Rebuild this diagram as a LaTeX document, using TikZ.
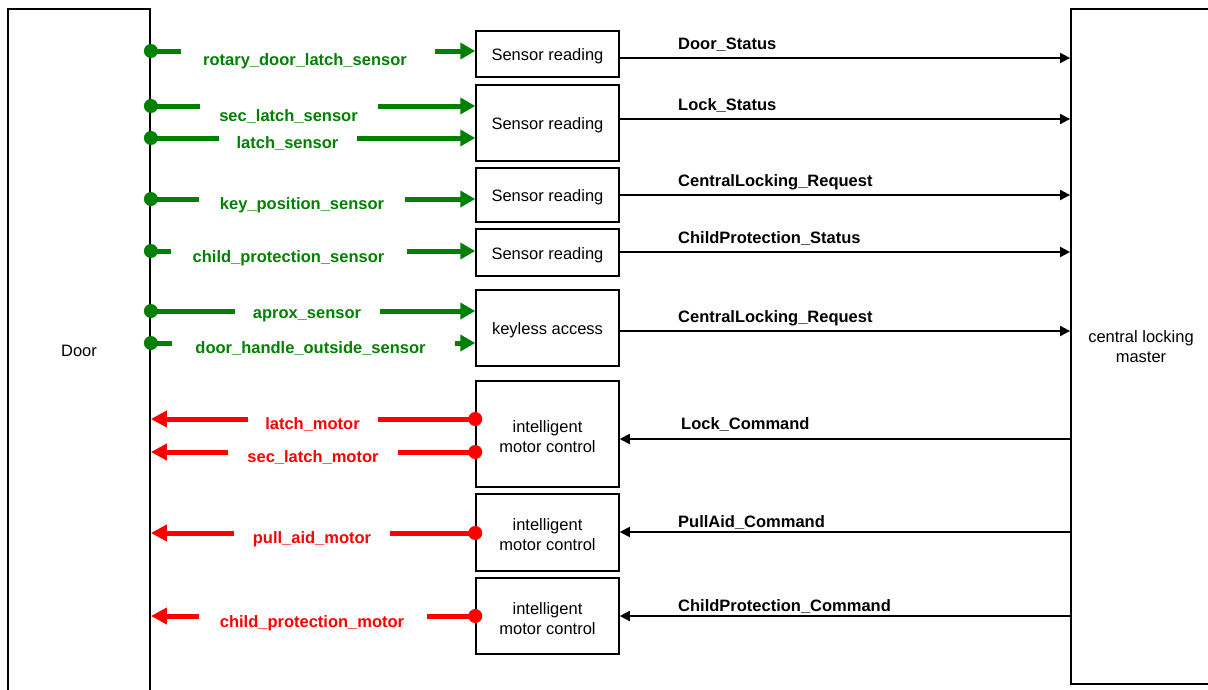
\documentclass[tikz,border=0pt]{standalone}
\usepackage{fontspec}
\setmainfont{Liberation Sans}
\usetikzlibrary{arrows.meta}
\definecolor{sgreen}{RGB}{0,128,0}
\definecolor{sred}{RGB}{255,0,0}
\newcommand\boxup{\rule{0pt}{16.5pt}}
\begin{document}
\begin{tikzpicture}[x=1pt,y=-1pt,
  every node/.style={font=\fontsize{16.5}{20}\selectfont},
  blk/.style={draw=black, line width=1.5pt, inner sep=0pt, align=center},
  gline/.style={draw=sgreen, line width=5pt},
  rline/.style={draw=sred, line width=5pt},
  garrow/.style={gline,-{Triangle[length=15pt,width=16pt]}},
  rarrow/.style={rline,-{Triangle[length=16pt,width=16pt]}},
  barrow/.style={draw=black,line width=1.8pt,-{Triangle[length=10pt,width=10pt]}},
  glabel/.style={text=sgreen, font=\fontsize{16.5}{20}\selectfont\bfseries, anchor=base, inner sep=0pt},
  rlabel/.style={text=sred, font=\fontsize{16.5}{20}\selectfont\bfseries, anchor=base, inner sep=0pt},
  blabel/.style={text=black, font=\fontsize{16.5}{20}\selectfont\bfseries, anchor=base west, inner sep=0pt},
  gdot/.style={fill=sgreen},
  rdot/.style={fill=sred}]
\useasboundingbox (0,0) rectangle (1208,689);

% main blocks
\node[blk, line width=1.8pt, minimum width=142pt, minimum height=684pt] (door) at (79,351) {Door};
\node[blk, line width=1.8pt, minimum width=140pt, minimum height=675pt] (master) at (1141,346.5) {central locking\\master};

% function boxes
\node[blk, minimum width=143pt, minimum height=46pt] (s1) at (547.5,54) {\boxup Sensor reading};
\node[blk, minimum width=143pt, minimum height=76pt] (s2) at (547.5,123) {\boxup Sensor reading};
\node[blk, minimum width=143pt, minimum height=54pt] (s3) at (547.5,195) {\boxup Sensor reading};
\node[blk, minimum width=143pt, minimum height=47pt] (s4) at (547.5,252.5) {\boxup Sensor reading};
\node[blk, minimum width=143pt, minimum height=76pt] (k) at (547.5,328) {\boxup keyless access};
\node[blk, minimum width=143pt, minimum height=106pt] (m1) at (547.5,434) {\boxup intelligent\\motor control};
\node[blk, minimum width=143pt, minimum height=77pt] (m2) at (547.5,532.5) {\boxup intelligent\\motor control};
\node[blk, minimum width=143pt, minimum height=76pt] (m3) at (547.5,616) {\boxup intelligent\\motor control};

% green sensor signals
\draw[gline] (door.east |- 0,51) -- (181,51);
\draw[garrow] (435,51) -- (s1.west |- 0,51);
\fill[gdot] (door.east |- 0,51) circle[radius=7pt];
\node[glabel] (g1) at (305,65) {rotary\_door\_latch\_sensor};

\draw[gline] (door.east |- 0,106) -- (200,106);
\draw[garrow] (378,106) -- (s2.west |- 0,106);
\fill[gdot] (door.east |- 0,106) circle[radius=7pt];
\node[glabel] (g2) at (288.5,121) {sec\_latch\_sensor};

\draw[gline] (door.east |- 0,138) -- (219,138);
\draw[garrow] (357,138) -- (s2.west |- 0,138);
\fill[gdot] (door.east |- 0,138) circle[radius=7pt];
\node[glabel] (g3) at (287.5,148) {latch\_sensor};

\draw[gline] (door.east |- 0,199) -- (199,199);
\draw[garrow] (405,199) -- (s3.west |- 0,199);
\fill[gdot] (door.east |- 0,199) circle[radius=7pt];
\node[glabel] (g4) at (302,209) {key\_position\_sensor};

\draw[gline] (door.east |- 0,251) -- (171,251);
\draw[garrow] (407,251) -- (s4.west |- 0,251);
\fill[gdot] (door.east |- 0,251) circle[radius=7pt];
\node[glabel] (g5) at (288.5,262) {child\_protection\_sensor};

\draw[gline] (door.east |- 0,311) -- (235,311);
\draw[garrow] (380,311) -- (k.west |- 0,311);
\fill[gdot] (door.east |- 0,311) circle[radius=7pt];
\node[glabel] (g6) at (307,318) {aprox\_sensor};

\draw[gline] (door.east |- 0,343) -- (172,343);
\draw[garrow] (455,343) -- (k.west |- 0,343);
\fill[gdot] (door.east |- 0,343) circle[radius=7pt];
\node[glabel] (g7) at (310.5,353) {door\_handle\_outside\_sensor};

% red actuator signals
\draw[rline] (m1.west |- 0,419) -- (378,419);
\draw[rarrow] (248,419) -- (door.east |- 0,419);
\fill[rdot] (m1.west |- 0,419) circle[radius=7pt];
\node[rlabel] (r1) at (312.5,429) {latch\_motor};

\draw[rline] (m1.west |- 0,452) -- (398,452);
\draw[rarrow] (228,452) -- (door.east |- 0,452);
\fill[rdot] (m1.west |- 0,452) circle[radius=7pt];
\node[rlabel] (r2) at (313,462) {sec\_latch\_motor};

\draw[rline] (m2.west |- 0,533) -- (390,533);
\draw[rarrow] (234,533) -- (door.east |- 0,533);
\fill[rdot] (m2.west |- 0,533) circle[radius=7pt];
\node[rlabel] (r3) at (312,543) {pull\_aid\_motor};

\draw[rline] (m3.west |- 0,616) -- (427,616);
\draw[rarrow] (199,616) -- (door.east |- 0,616);
\fill[rdot] (m3.west |- 0,616) circle[radius=7pt];
\node[rlabel] (r4) at (312,627) {child\_protection\_motor};

% black bus signals
\draw[barrow] (s1.east |- 0,58) -- (master.west |- 0,58);
\node[blabel] (b1) at (678,49) {Door\_Status};
\draw[barrow] (s2.east |- 0,119) -- (master.west |- 0,119);
\node[blabel] (b2) at (678,110) {Lock\_Status};
\draw[barrow] (s3.east |- 0,195) -- (master.west |- 0,195);
\node[blabel] (b3) at (678,186) {CentralLocking\_Request};
\draw[barrow] (s4.east |- 0,252) -- (master.west |- 0,252);
\node[blabel] (b4) at (678,243) {ChildProtection\_Status};
\draw[barrow] (k.east |- 0,331) -- (master.west |- 0,331);
\node[blabel] (b5) at (678,322) {CentralLocking\_Request};
\draw[barrow] (master.west |- 0,439) -- (m1.east |- 0,439);
\node[blabel] (b6) at (681,429) {Lock\_Command};
\draw[barrow] (master.west |- 0,532) -- (m2.east |- 0,532);
\node[blabel] (b7) at (678,527) {PullAid\_Command};
\draw[barrow] (master.west |- 0,616) -- (m3.east |- 0,616);
\node[blabel] (b8) at (678,611) {ChildProtection\_Command};
\end{tikzpicture}
\end{document}
